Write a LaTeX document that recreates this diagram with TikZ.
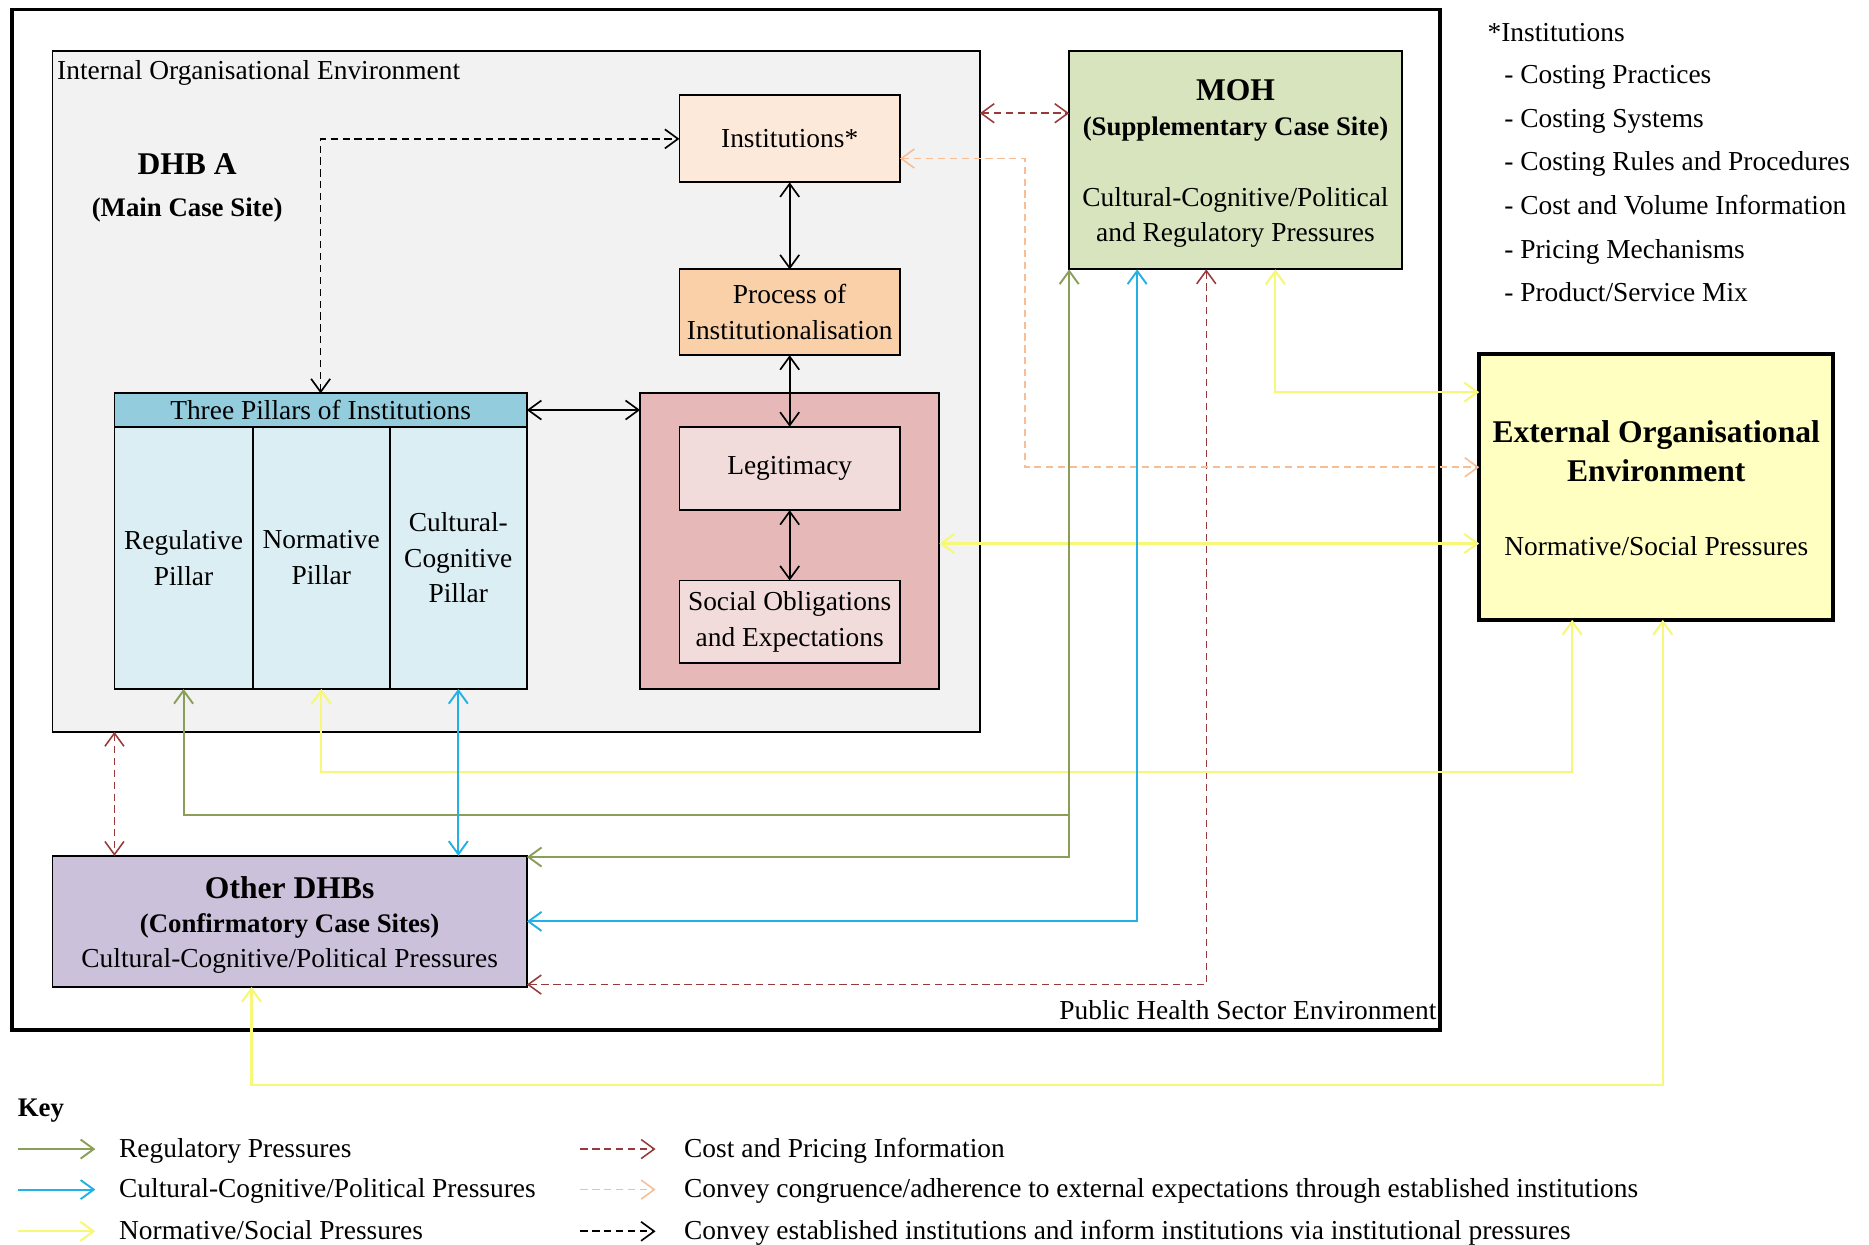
\documentclass[tikz,border=0pt]{standalone}
\usepackage{fontspec}
\setmainfont{Liberation Serif}
\usetikzlibrary{arrows.meta}

% line colours
\definecolor{regcol}{HTML}{8A9E58}
\definecolor{cogcol}{HTML}{22B0E6}
\definecolor{normcol}{HTML}{F7F77A}
\definecolor{costcol}{HTML}{963A3A}
\definecolor{convcol}{HTML}{F7BE96}
% box fills
\definecolor{envfill}{HTML}{F2F2F2}
\definecolor{instfill}{HTML}{FDE9D9}
\definecolor{procfill}{HTML}{FAD0A8}
\definecolor{legfill}{HTML}{E6B9B8}
\definecolor{leginfill}{HTML}{F2DCDB}
\definecolor{pilheadfill}{HTML}{93CDDD}
\definecolor{pilbodyfill}{HTML}{DBEEF4}
\definecolor{mohfill}{HTML}{D7E4BD}
\definecolor{extfill}{HTML}{FFFFC2}
\definecolor{dhbfill}{HTML}{CCC1DA}

\newcommand\fsBody{\fontsize{23}{30}\selectfont}
\newcommand\fsSub{\fontsize{22.5}{30}\selectfont\bfseries}
\newcommand\fsHead{\fontsize{26.5}{32}\selectfont\bfseries}

\begin{document}
\begin{tikzpicture}[x=1pt,y=-1pt,
  >={Straight Barb[length=11pt,width=16pt]},
  every node/.style={inner sep=0pt,outer sep=0pt,font=\fsBody},
  box/.style={draw=black,line width=1.5pt,align=center},
  blk/.style={draw=black,line width=1.4pt},
  blkdash/.style={blk,dash pattern=on 6pt off 4pt},
  reg/.style={draw=regcol,line width=1.6pt},
  cog/.style={draw=cogcol,line width=1.6pt},
  norm/.style={draw=normcol,line width=1.8pt},
  cost/.style={draw=costcol,line width=1.3pt,dash pattern=on 6pt off 4pt},
  conv/.style={draw=convcol,line width=1.3pt,dash pattern=on 6pt off 4pt}]

\useasboundingbox[fill=white] (0,0) rectangle (1568,1044);

% ---------- environments ----------
\node[box,line width=3pt,fill=white,minimum width=1198pt,minimum height=856pt] (pubenv) at (609,436) {};
\node[anchor=base east] (pubenvlbl) at (1205,855) {Public Health Sector Environment};

\node[box,fill=envfill,minimum width=778pt,minimum height=571pt] (intenv) at (433,328.5) {};
\node[anchor=base west] (intenvlbl) at (48,67) {Internal Organisational Environment};

\node[anchor=base,font=\fsHead] (dhba) at (157,146) {DHB A};
\node[anchor=base,font=\fsSub] (dhbasub) at (157,182) {(Main Case Site)};

% ---------- institutional process chain ----------
\node[box,fill=instfill,minimum width=185pt,minimum height=73pt] (inst) at (662.5,116.5) {Institutions*};
\node[box,fill=procfill,minimum width=185pt,minimum height=72pt] (proc) at (662.5,262) {Process of\\Institutionalisation};
\node[box,fill=legfill,minimum width=251pt,minimum height=248pt] (legbox) at (662.5,454) {};
\node[box,fill=leginfill,minimum width=185pt,minimum height=70pt] (legit) at (662.5,393) {Legitimacy};
\node[box,fill=leginfill,minimum width=185pt,minimum height=69pt] (social) at (662.5,521.5) {Social Obligations\\and Expectations};

% ---------- three pillars ----------
\node[box,fill=pilheadfill,minimum width=346pt,minimum height=28pt] (pilhead) at (269,344) {Three Pillars of Institutions};
\node[box,fill=pilbodyfill,minimum width=116pt,minimum height=220pt] (regp) at (154,468) {Regulative\\Pillar};
\node[box,fill=pilbodyfill,minimum width=115pt,minimum height=220pt] (normp) at (269.5,468) {Normative\\Pillar};
\node[box,fill=pilbodyfill,minimum width=115pt,minimum height=220pt] (cogp) at (384.5,468) {Cultural-\\Cognitive\\Pillar};

% ---------- MOH ----------
\node[box,fill=mohfill,minimum width=279pt,minimum height=183pt] (moh) at (1036.5,134.5) {};
\node[anchor=base,font=\fsHead] (moht1) at (1036.5,84) {MOH};
\node[anchor=base,font=\fsSub] (moht2) at (1036.5,114) {(Supplementary Case Site)};
\node[anchor=base] (moht3) at (1036.5,173) {Cultural-Cognitive/Political};
\node[anchor=base] (moht4) at (1036.5,203) {and Regulatory Pressures};

% ---------- external environment ----------
\node[box,line width=3pt,fill=extfill,minimum width=297pt,minimum height=223pt] (ext) at (1389.5,408.5) {};
\node[anchor=base,font=\fsHead] (extt1) at (1389.5,371) {External Organisational};
\node[anchor=base,font=\fsHead] (extt2) at (1389.5,404) {Environment};
\node[anchor=base] (extt3) at (1389.5,466) {Normative/Social Pressures};

% ---------- other DHBs ----------
\node[box,fill=dhbfill,minimum width=398pt,minimum height=110pt] (dhbs) at (243,773) {};
\node[anchor=base,font=\fsHead] (dhbst1) at (243,754) {Other DHBs};
\node[anchor=base,font=\fsSub] (dhbst2) at (243,782) {(Confirmatory Case Sites)};
\node[anchor=base] (dhbst3) at (243,812) {Cultural-Cognitive/Political Pressures};

% ---------- institutions list ----------
\node[anchor=base west] (note0) at (1248,35) {*Institutions};
\node[anchor=base west] (note1) at (1262,70) {- Costing Practices};
\node[anchor=base west] (note2) at (1262,107) {- Costing Systems};
\node[anchor=base west] (note3) at (1262,143) {- Costing Rules and Procedures};
\node[anchor=base west] (note4) at (1262,180) {- Cost and Volume Information};
\node[anchor=base west] (note5) at (1262,217) {- Pricing Mechanisms};
\node[anchor=base west] (note6) at (1262,253) {- Product/Service Mix};

% ---------- bend points ----------
\coordinate (r95) at (0,95);
\coordinate (pk1) at (860,133);
\coordinate (pk2) at (860,392);
\coordinate (y1) at (1070,329);
\coordinate (y2) at (1000,456);
\coordinate (y3) at (1319,648);
\coordinate (y4a) at (211,910);
\coordinate (y4b) at (1395,910);
\coordinate (g1) at (897,684);
\coordinate (g2) at (897,719);
\coordinate (b1) at (954,773);
\coordinate (c1) at (1012,826);
\coordinate (c2) at (96,660);

% ---------- black connectors ----------
\draw[blkdash,<->] (pilhead.north) |- (inst.west);
\draw[blk,<->] (inst.south) -- (proc.north);
\draw[blk,<->] (proc.south) -- (legit.north);
\draw[blk,<->] (legit.south) -- (social.north);
\draw[blk,<->] (pilhead.east) -- (pilhead.east -| legbox.west);

% ---------- cost and pricing information ----------
\draw[cost,<->] (intenv.east |- r95) -- (moh.west |- r95);
\draw[cost,<->] (moh.south -| c1) -- (c1) -- (dhbs.east |- c1);
\draw[cost,<->] (intenv.south -| c2) -- (dhbs.north -| c2);

% ---------- congruence with external expectations ----------
\draw[conv,<->] (inst.east |- pk1) -- (pk1) -- (pk2) -- (ext.west |- pk2);

% ---------- normative / social pressures ----------
\draw[norm,<->] (moh.south -| y1) -- (y1) -- (ext.west |- y1);
\draw[norm,<->] (legbox.east |- y2) -- (ext.west |- y2);
\draw[norm,<->] (normp.south) |- (y3) -- (ext.south -| y3);
\draw[norm,<->] (dhbs.south -| y4a) -- (y4a) -- (y4b) -- (ext.south -| y4b);

% ---------- regulatory pressures ----------
\draw[reg,<->] (moh.south west) -- (g2) -- (dhbs.east |- g2);
\draw[reg,->] (g1) -| (regp.south);

% ---------- cultural-cognitive / political pressures ----------
\draw[cog,<->] (cogp.south) -- (dhbs.north -| cogp.south);
\draw[cog,<->] (moh.south -| b1) -- (b1) -- (dhbs.east |- b1);

% ---------- key ----------
\node[anchor=base west,font=\fsSub] (keylbl) at (15,937) {Key};
\coordinate (k1a) at (15,964);  \coordinate (k1b) at (80,964);
\coordinate (k2a) at (15,998);  \coordinate (k2b) at (80,998);
\coordinate (k3a) at (15,1033); \coordinate (k3b) at (80,1033);
\coordinate (k4a) at (487,964); \coordinate (k4b) at (550,964);
\coordinate (k5a) at (487,998); \coordinate (k5b) at (550,998);
\coordinate (k6a) at (487,1033);\coordinate (k6b) at (550,1033);
\draw[reg,->] (k1a) -- (k1b);
\draw[cog,->] (k2a) -- (k2b);
\draw[norm,->] (k3a) -- (k3b);
\draw[cost,->] (k4a) -- (k4b);
\draw[conv,->] (k5a) -- (k5b);
\draw[blkdash,->] (k6a) -- (k6b);
\node[anchor=base west] (k1t) at (100,971) {Regulatory Pressures};
\node[anchor=base west] (k2t) at (100,1005) {Cultural-Cognitive/Political Pressures};
\node[anchor=base west] (k3t) at (100,1040) {Normative/Social Pressures};
\node[anchor=base west] (k4t) at (574,971) {Cost and Pricing Information};
\node[anchor=base west] (k5t) at (574,1005) {Convey congruence/adherence to external expectations through established institutions};
\node[anchor=base west] (k6t) at (574,1040) {Convey established institutions and inform institutions via institutional pressures};
\end{tikzpicture}
\end{document}
